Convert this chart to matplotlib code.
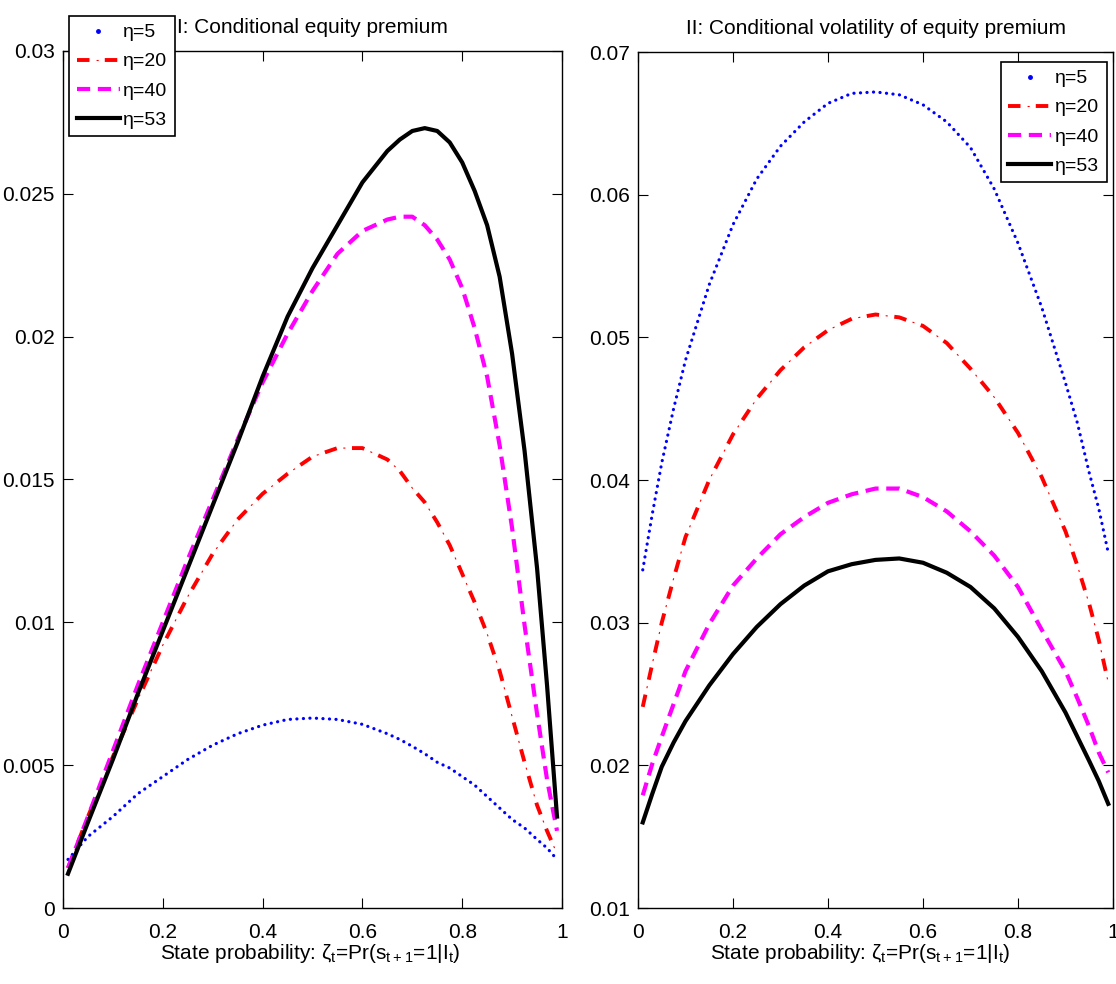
import matplotlib
matplotlib.use('Agg')
import matplotlib.pyplot as plt
from matplotlib.lines import Line2D

plt.rcParams['font.family'] = ['Liberation Sans', 'DejaVu Sans']
plt.rcParams['mathtext.default'] = 'regular'
plt.rcParams['lines.scale_dashes'] = False

# panel I: conditional equity premium
zeta_prem = [0.01, 0.05, 0.10, 0.15, 0.20, 0.25, 0.30, 0.35, 0.40, 0.45, 0.50, 0.55, 0.60,
             0.65, 0.675, 0.70, 0.725, 0.75, 0.775, 0.80, 0.825, 0.85, 0.875, 0.90, 0.925,
             0.95, 0.97, 0.99]
prem_eta5 = [0.0017, 0.0025, 0.0032, 0.0040, 0.0046, 0.0052, 0.0057, 0.0061, 0.0064, 0.0066,
             0.00665, 0.0066, 0.00643, 0.0061, 0.0059, 0.00566, 0.0054, 0.0051, 0.0049, 0.0046,
             0.0043, 0.0039, 0.0035, 0.0031, 0.0028, 0.0024, 0.0021, 0.0017]
prem_eta20 = [0.0014, 0.0032, 0.0053, 0.0073, 0.0092, 0.0109, 0.0124, 0.0136, 0.0145, 0.0152,
              0.0158, 0.0161, 0.0161, 0.0157, 0.0153, 0.0147, 0.0142, 0.0135, 0.0127, 0.0117,
              0.0107, 0.0096, 0.0083, 0.0067, 0.0051, 0.0036, 0.0027, 0.0019]
prem_eta40 = [0.0014, 0.0032, 0.0055, 0.0078, 0.0100, 0.0122, 0.0143, 0.0164, 0.0184, 0.0201,
              0.0216, 0.0229, 0.0237, 0.0241, 0.0242, 0.0242, 0.0239, 0.0234, 0.0227, 0.0217,
              0.0203, 0.0186, 0.0162, 0.0133, 0.0099, 0.0068, 0.0045, 0.0027]
prem_eta53 = [0.0012, 0.0030, 0.0052, 0.0075, 0.0097, 0.0119, 0.0141, 0.0163, 0.0186, 0.0207,
              0.0224, 0.0239, 0.0254, 0.0265, 0.0269, 0.0272, 0.0273, 0.0272, 0.0268, 0.0261,
              0.0251, 0.0239, 0.0221, 0.0194, 0.0160, 0.0119, 0.0078, 0.0032]

# panel II: conditional volatility of equity premium
zeta_vol = [0.01, 0.03, 0.05, 0.075, 0.10, 0.15, 0.20, 0.25, 0.30, 0.35, 0.40, 0.45, 0.50,
            0.55, 0.60, 0.65, 0.70, 0.75, 0.80, 0.85, 0.90, 0.925, 0.95, 0.97, 0.99]
vol_eta5 = [0.0337, 0.0376, 0.0412, 0.0450, 0.0484, 0.0537, 0.0579, 0.0611, 0.0634, 0.0651,
            0.0664, 0.0671, 0.0672, 0.0670, 0.0663, 0.0651, 0.0633, 0.0604, 0.0566, 0.0521,
            0.0468, 0.0440, 0.0405, 0.0380, 0.0349]
vol_eta20 = [0.0241, 0.0271, 0.0300, 0.0331, 0.0360, 0.0400, 0.0432, 0.0457, 0.0477, 0.0493,
             0.0505, 0.0513, 0.0516, 0.0514, 0.0508, 0.0496, 0.0478, 0.0458, 0.0433, 0.0402,
             0.0364, 0.0340, 0.0313, 0.0288, 0.0258]
vol_eta40 = [0.0179, 0.0201, 0.0220, 0.0243, 0.0266, 0.0299, 0.0326, 0.0345, 0.0362, 0.0374,
             0.0384, 0.0390, 0.0394, 0.0394, 0.0388, 0.0378, 0.0364, 0.0347, 0.0325, 0.0295,
             0.0266, 0.0247, 0.0227, 0.0209, 0.0195]
vol_eta53 = [0.0160, 0.0180, 0.0199, 0.0216, 0.0231, 0.0256, 0.0278, 0.0297, 0.0313, 0.0326,
             0.0336, 0.0341, 0.0344, 0.0345, 0.0342, 0.0335, 0.0325, 0.0310, 0.0290, 0.0266,
             0.0237, 0.0220, 0.0203, 0.0189, 0.0173]

labels = ['\u03b7=5', '\u03b7=20', '\u03b7=40', '\u03b7=53']

xticks = [0, 0.2, 0.4, 0.6, 0.8, 1]
xticklabels = ['0', '0.2', '0.4', '0.6', '0.8', '1']
yticks_prem = [0, 0.005, 0.01, 0.015, 0.02, 0.025, 0.03]
yticklabels_prem = ['0', '0.005', '0.01', '0.015', '0.02', '0.025', '0.03']
yticks_vol = [0.01, 0.02, 0.03, 0.04, 0.05, 0.06, 0.07]
yticklabels_vol = ['0.01', '0.02', '0.03', '0.04', '0.05', '0.06', '0.07']

xlabel = 'State probability: \u03b6$_t$=Pr(s$_{t+1}$=1|I$_t$)'
fs = 15

W, H = 1116, 984
fig = plt.figure(figsize=(W / 100, H / 100), dpi=100)
ax1 = fig.add_axes([63 / W, 1 - 908 / H, (562 - 63) / W, (908 - 51) / H])
ax2 = fig.add_axes([638 / W, 1 - 908 / H, (1113 - 638) / W, (908 - 52) / H])


def draw_panel(ax, x, y5, y20, y40, y53):
    ax.plot(x, y5, color='b', lw=2.3, linestyle=(0, (0.1, 4.6)),
            dash_capstyle='round')
    thick = ax.plot(x, y20, color='r', lw=2.8, linestyle=(0, (9, 11)))[0]
    thin = ax.plot(x, y20, color='r', lw=0.8, linestyle=(6.25, (1.5, 18.5)))[0]
    dash = ax.plot(x, y40, color='magenta', lw=3.0, linestyle=(0, (9.5, 5.5)))[0]
    solid = ax.plot(x, y53, color='k', lw=3.0)[0]
    dot = Line2D([], [], color='b', ls='none', marker='.', markersize=5)
    return [dot, (thick, thin), dash, solid]


def style_axes(ax, yticks, yticklabels, ylim, title, label_x):
    ax.set_xlim(0, 1)
    ax.set_ylim(*ylim)
    ax.set_xticks(xticks)
    ax.set_xticklabels(xticklabels)
    ax.set_yticks(yticks)
    ax.set_yticklabels(yticklabels)
    ax.tick_params(direction='in', top=True, right=True, length=7, width=0.8,
                   labelsize=fs, pad=6)
    ax.tick_params(axis='x', pad=11)
    for s in ax.spines.values():
        s.set_linewidth(1.0)
    ax.set_title(title, fontsize=fs, pad=13)
    ax.set_xlabel(xlabel, fontsize=fs)
    ax.xaxis.set_label_coords(label_x, -0.04)


h1 = draw_panel(ax1, zeta_prem, prem_eta5, prem_eta20, prem_eta40, prem_eta53)
style_axes(ax1, yticks_prem, yticklabels_prem, (0, 0.03),
           'I: Conditional equity premium', 0.495)

h2 = draw_panel(ax2, zeta_vol, vol_eta5, vol_eta20, vol_eta40, vol_eta53)
style_axes(ax2, yticks_vol, yticklabels_vol, (0.01, 0.07),
           'II: Conditional volatility of equity premium', 0.468)

leg_kw = dict(fontsize=14, fancybox=False, edgecolor='k', framealpha=1,
              handlelength=2.2, handletextpad=0.2, borderpad=0.4,
              labelspacing=0.59, borderaxespad=0, bbox_transform=fig.transFigure)
leg1 = fig.legend(h1, labels, loc='upper left', bbox_to_anchor=(69 / W, 1 - 16 / H), **leg_kw)
leg2 = fig.legend(h2, labels, loc='upper right', bbox_to_anchor=(1107 / W, 1 - 62 / H), **leg_kw)
for leg in (leg1, leg2):
    leg.get_frame().set_linewidth(1.2)

fig.savefig('out.png', dpi=100)
